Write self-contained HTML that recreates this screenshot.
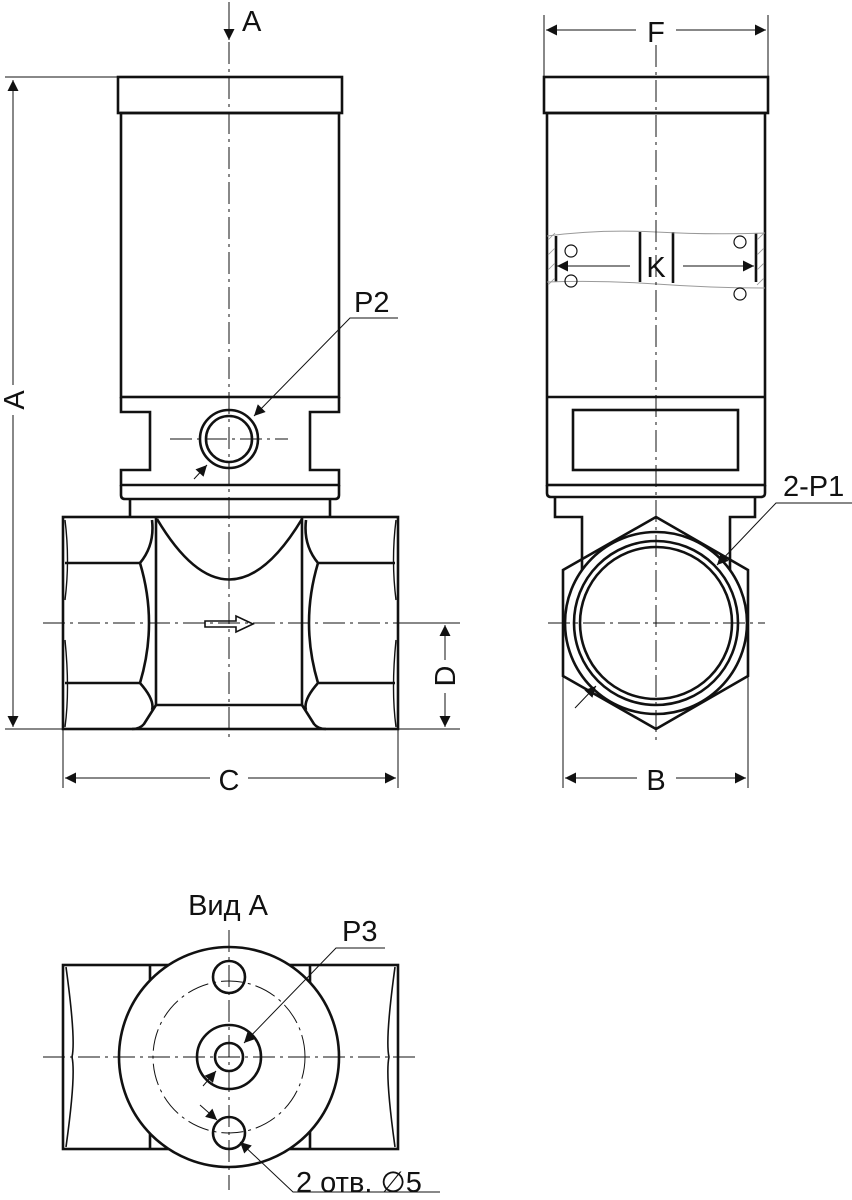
<!DOCTYPE html>
<html><head><meta charset="utf-8"><style>html,body{margin:0;padding:0;background:#fff}svg{display:block}text{font-family:"Liberation Sans Narrow","Liberation Sans",sans-serif;font-size:29px;fill:#111}</style></head><body>
<svg width="852" height="1200" viewBox="0 0 852 1200" xmlns="http://www.w3.org/2000/svg">
<defs><marker id="ar" viewBox="0 0 10 10" refX="10" refY="5" markerWidth="18" markerHeight="11" markerUnits="userSpaceOnUse" orient="auto-start-reverse"><path d="M0,0 L10,5 L0,10 z" fill="#111"/></marker></defs>
<g fill="none" stroke="#111" stroke-width="2.6">
<rect x="118" y="77" width="224" height="36"/>
<rect x="121" y="113" width="218" height="284"/>
<path d="M121,397 V412 H150 V470 H121 V485 H339 V470 H310 V412 H339 V397"/>
<path d="M121,485 V495 Q121,499 125,499 H335 Q339,499 339,495 V485"/>
<path d="M130,499 V517 M330,499 V517"/>
<rect x="63" y="517" width="335" height="212"/>
<path d="M156,517 V705 M302,517 V705 M156,705 H302"/>
<path d="M156,705 L144,724 Q140,729 132,729 M302,705 L314,724 Q318,729 326,729"/>
<path d="M65,563 H140 M65,683 H140 M319,563 H395 M319,683 H395"/>
<path d="M152,520 Q155,545 140,563 Q158,623 140,683 Q155,700 152,710"/>
<path d="M306,520 Q303,545 318,563 Q300,623 318,683 Q303,700 306,710"/>
<path d="M65,520 Q70,560 65,600 M65,640 Q70,690 65,727 M396,520 Q391,560 396,600 M396,640 Q391,690 396,727" stroke-width="1.4"/>
<path d="M157,519 Q229,640 302,519"/>
<path d="M205,621 H236 V616 L253,624 L236,632 V627 H205 z" stroke-width="1.6"/>
<circle cx="229" cy="439" r="29"/><circle cx="229" cy="439" r="23"/>
<rect x="544" y="77" width="224" height="36"/>
<rect x="547" y="113" width="218" height="372"/>
<path d="M547,397 H765"/>
<rect x="573" y="410" width="165" height="60"/>
<path d="M547,485 V493 Q547,497 551,497 H761 Q765,497 765,493 V485"/>
<path d="M555,497 V517 H582 V570 M755,497 V517 H730 V570"/>
<path d="M656,517 L748,570 V676 L656,729 L563,676 V570 z"/>
<circle cx="656" cy="623" r="91"/><circle cx="656" cy="623" r="82"/><circle cx="656" cy="623" r="76"/>
<path d="M640,232 V282 M673,232 V283 M556,236 V282 M756,233 V282"/>
<path d="M547,236 Q600,229 656,232 T765,233 M547,282 Q600,280 656,284 T765,288" stroke-width="1" stroke="#999"/>
<path d="M548,240 L555,233 M548,255 L555,248 M548,270 L555,263 M548,285 L555,278 M757,240 L764,233 M757,255 L764,248 M757,270 L764,263 M757,285 L764,278" stroke-width="0.8" stroke="#999"/>
<circle cx="571" cy="251" r="6" stroke-width="1.2"/><circle cx="571" cy="281" r="6" stroke-width="1.2"/>
<circle cx="740" cy="242" r="6" stroke-width="1.2"/><circle cx="740" cy="294" r="6" stroke-width="1.2"/>
<rect x="63" y="965" width="335" height="184"/>
<path d="M150,965 V1149 M310,965 V1149"/>
<path d="M66,967 Q76,1040 72,1057 Q76,1075 66,1147 M395,967 Q385,1040 389,1057 Q385,1075 395,1147" stroke-width="1.6"/>
<circle cx="229" cy="1057" r="110" fill="#fff"/>
<circle cx="229" cy="977" r="16"/><circle cx="229" cy="1133" r="16"/>
<circle cx="229" cy="1057" r="32"/><circle cx="229" cy="1057" r="14"/>
</g>
<g fill="none" stroke="#111" stroke-width="1" stroke-dasharray="22,5,3,5">
<path d="M229,42 V740 M43,623 H460 M170,439 H288 M656,45 V745 M548,623 H765 M229,930 V1190 M43,1057 H420"/>
<circle cx="229" cy="1057" r="76"/>
</g>
<g fill="none" stroke="#111" stroke-width="1">
<path d="M5,77 H118 M5,729 H63 M398,623 H460 M398,729 H460 M63,729 V788 M398,729 V788 M544,15 V77 M768,15 V77 M563,676 V788 M748,676 V788"/>
<path d="M13,385 V80" marker-end="url(#ar)"/><path d="M13,415 V727" marker-end="url(#ar)"/>
<path d="M229,2 V40" marker-end="url(#ar)"/>
<path d="M445,660 V625" marker-end="url(#ar)"/><path d="M445,693 V727" marker-end="url(#ar)"/>
<path d="M210,778 H65" marker-end="url(#ar)"/><path d="M248,778 H396" marker-end="url(#ar)"/>
<path d="M636,30 H546" marker-end="url(#ar)"/><path d="M676,30 H766" marker-end="url(#ar)"/>
<path d="M637,778 H565" marker-end="url(#ar)"/><path d="M676,778 H746" marker-end="url(#ar)"/>
<path d="M630,266 H557" marker-end="url(#ar)"/><path d="M683,266 H754" marker-end="url(#ar)"/>
<path d="M398,318 H350 L254,416" marker-end="url(#ar)"/><path d="M194,479 L207,465" marker-end="url(#ar)"/>
<path d="M852,503 H776 L717,565" marker-end="url(#ar)"/><path d="M575,708 L596,686" marker-end="url(#ar)"/>
<path d="M385,948 H336 L244,1043" marker-end="url(#ar)"/><path d="M203,1086 L216,1071" marker-end="url(#ar)"/>
<path d="M440,1192 H293 L240,1142" marker-end="url(#ar)"/><path d="M200,1105 L217,1120" marker-end="url(#ar)"/>
</g>
<text x="242" y="31">A</text>
<text transform="translate(24,400) rotate(-90)" text-anchor="middle">A</text>
<text transform="translate(455,676) rotate(-90)" text-anchor="middle">D</text>
<text x="229" y="790" text-anchor="middle">C</text>
<text x="354" y="312">P2</text>
<text x="656" y="42" text-anchor="middle">F</text>
<text x="656" y="790" text-anchor="middle">B</text>
<text x="656" y="277" text-anchor="middle" font-size="26">K</text>
<text x="783" y="496">2-P1</text>
<text x="228" y="915" text-anchor="middle">Вид А</text>
<text x="342" y="941">P3</text>
<text x="296" y="1192">2 отв. ∅5</text>
</svg>
</body></html>
